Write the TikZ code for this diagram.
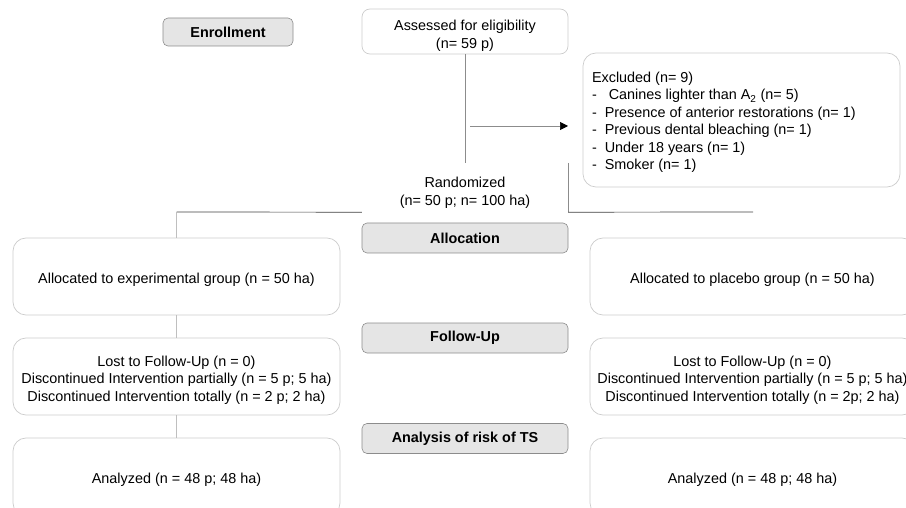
\documentclass[tikz,border=0pt]{standalone}
\usepackage{fontspec}
\setmainfont{Liberation Sans}
\usetikzlibrary{arrows.meta,calc}
\newcommand{\bxtext}[2][-3.5pt]{\raisebox{#1}[\height][\depth]{\begin{tabular}{@{}c@{}}#2\end{tabular}}}
\begin{document}
\begin{tikzpicture}[x=1pt,y=-1pt,
  every node/.style={font=\fontsize{14.4}{17.5}\selectfont, inner sep=0pt},
  header/.style={draw=black!45, fill=black!10, rounded corners=5pt, line width=0.6pt,
    minimum width=206pt, minimum height=30pt, font=\fontsize{14.4}{17.5}\selectfont\bfseries},
  box/.style={draw=black!20, rounded corners=13pt, line width=0.7pt, align=center},
  mainline/.style={draw=black!75, line width=0.7pt},
  greyline/.style={draw=black!45, line width=0.7pt},
  softline/.style={draw=black!25, line width=0.7pt},
]
\useasboundingbox (0,0) rectangle (906,508);
\clip (0,0) rectangle (906,508);
% headers
\node[header, minimum width=130pt, minimum height=28pt] (enr) at (228,32) {Enrollment};
\node[header] (alloc) at (465,238) {Allocation};
\node[header] (fol) at (465,338) {Follow-Up};
\node[header] (ana) at (465,438.5) {Analysis of risk of TS};
% top
\node[box, rounded corners=8pt, minimum width=206pt, minimum height=45pt, font=\fontsize{14.4}{18}\selectfont] (assess) at (465,31.5) {\bxtext[-4pt]{Assessed for eligibility\\(n= 59 p)}};
\node[box, minimum width=317pt, minimum height=134pt] (excl) at (741.5,120)
 {\raisebox{-2.5pt}[\height][\depth]{\parbox{299pt}{\raggedright
  Excluded (n= 9)\\
  -\ \ \ Canines lighter than A\textsubscript{2} (n= 5)\\
  -\ \ Presence of anterior restorations (n= 1)\\
  -\ \ Previous dental bleaching (n= 1)\\
  -\ \ Under 18 years (n= 1)\\
  -\ \ Smoker (n= 1)}}};
\node[minimum width=206pt, minimum height=49pt, font=\fontsize{14.4}{18}\selectfont] (rand) at (465,187.5) {\bxtext[-5pt]{Randomized\\(n= 50 p; n= 100 ha)}};
% left column
\node[box, minimum width=327pt, minimum height=77pt] (allocL) at (176.5,276.5) {\bxtext{Allocated to experimental group (n = 50 ha)}};
\node[box, minimum width=327pt, minimum height=77pt] (folL) at (176.5,376.5) {\bxtext{Lost to Follow-Up (n = 0)\\Discontinued Intervention partially (n = 5 p; 5 ha)\\Discontinued Intervention totally (n = 2 p; 2 ha)}};
\node[box, minimum width=327pt, minimum height=78pt] (anaL) at (176.5,477) {\bxtext[-3pt]{Analyzed (n = 48 p; 48 ha)}};
% right column
\node[box, minimum width=325pt, minimum height=77pt] (allocR) at (752.5,276.5) {\bxtext{Allocated to placebo group (n = 50 ha)}};
\node[box, minimum width=325pt, minimum height=77pt] (folR) at (752.5,376.5) {\bxtext{Lost to Follow-Up (n = 0)\\Discontinued Intervention partially (n = 5 p; 5 ha)\\Discontinued Intervention totally (n = 2p; 2 ha)}};
\node[box, minimum width=325pt, minimum height=78pt] (anaR) at (752.5,477) {\bxtext[-3pt]{Analyzed (n = 48 p; 48 ha)}};
% connectors
\coordinate (junc) at (465,126);
\coordinate (arrend) at (568,126);
\coordinate (L) at (176.5,212);
\coordinate (R) at (753,212);
\draw[greyline] (assess.south) -- (rand.north);
\draw[greyline, shorten <=5pt, -{Triangle[length=8pt,width=8pt,color=black]}] (junc) -- (arrend);
\draw[greyline] (rand.north east) -- (rand.south east);
\draw[mainline] (L) -- (rand.south west);
\draw[mainline] (rand.south east) -- (R);
\draw[softline] (L) -- (allocL.north);
\draw[softline] (allocL.south) -- (folL.north);
\draw[softline] (folL.south) -- (anaL.north);
\end{tikzpicture}
\end{document}
